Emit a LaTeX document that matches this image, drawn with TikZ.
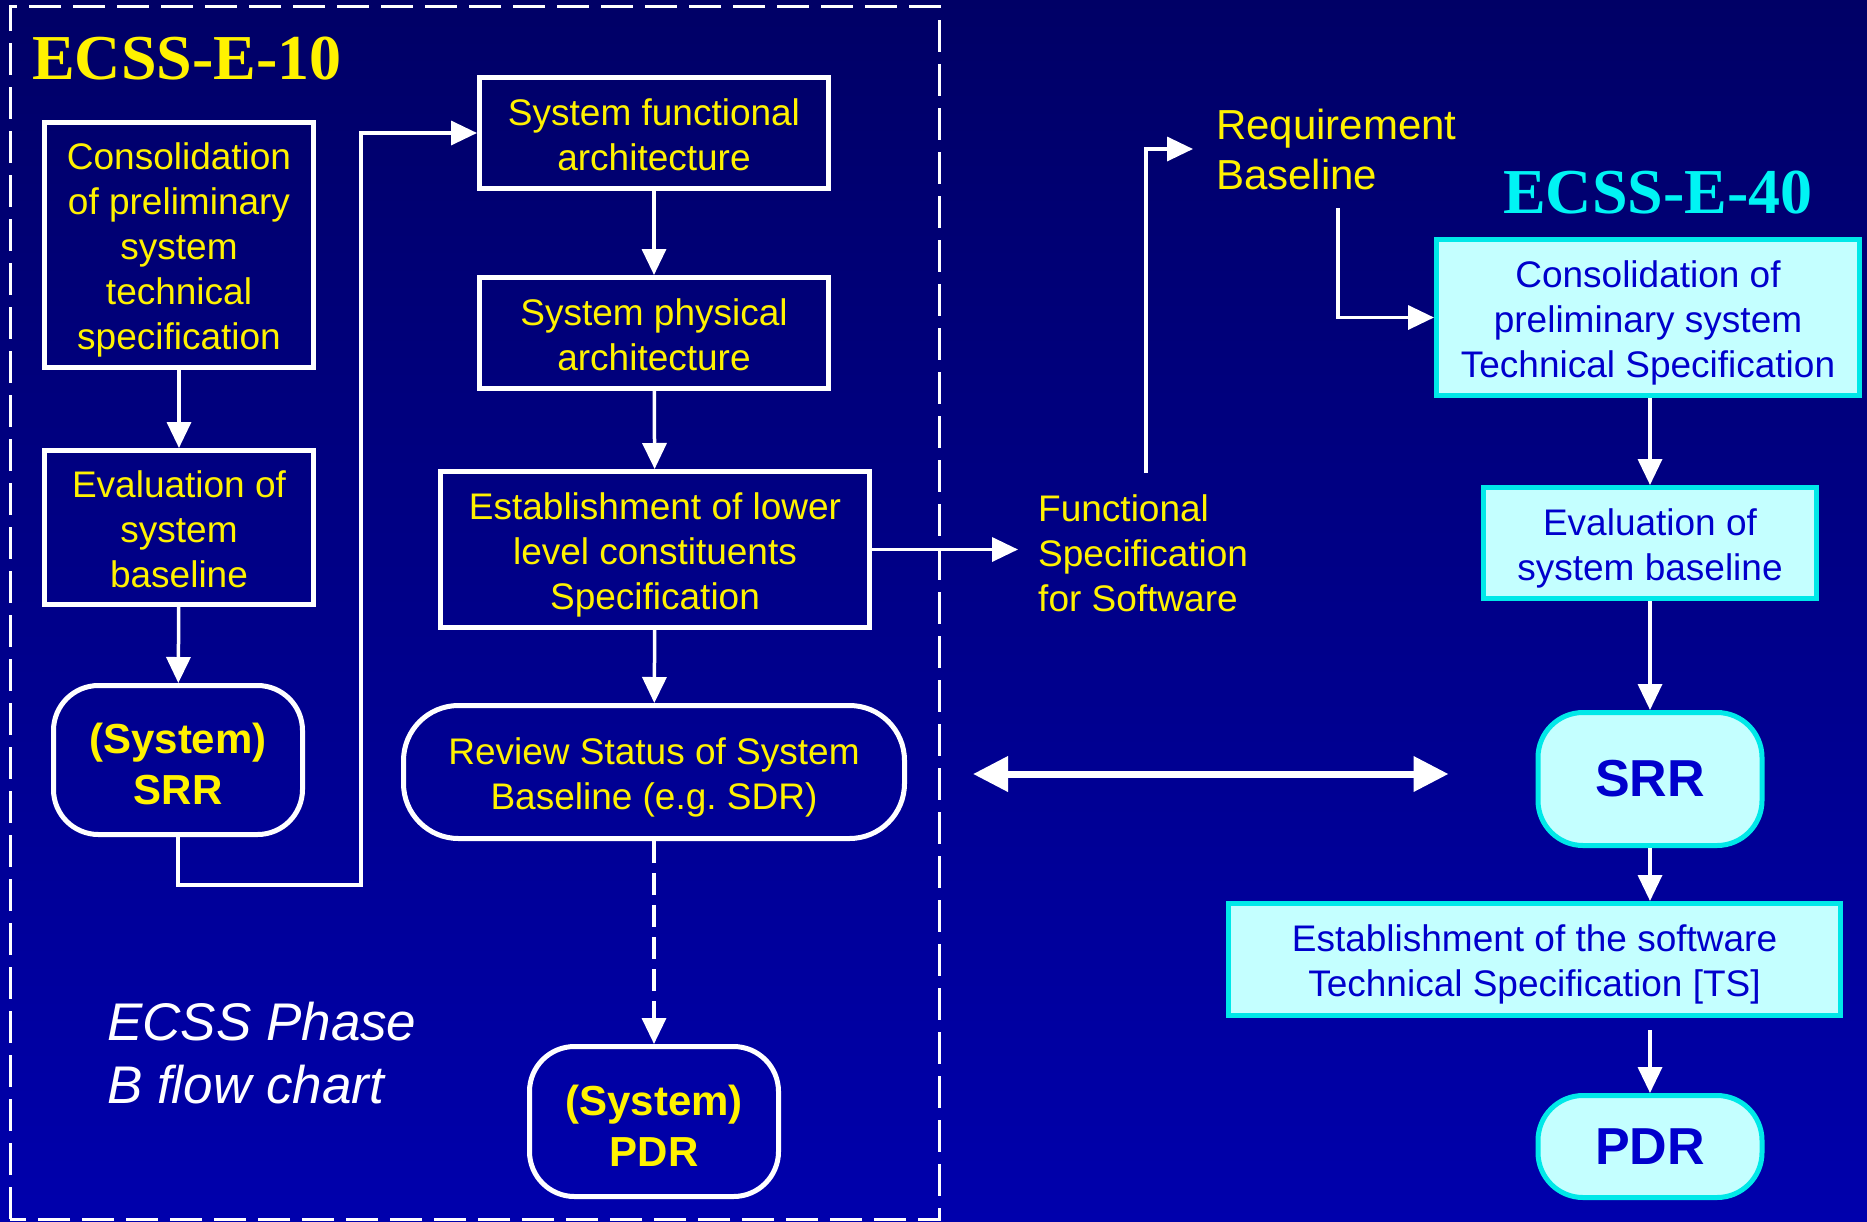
\documentclass[tikz,border=0pt]{standalone}
\usepackage{fontspec}
\setmainfont{Liberation Sans}
\newfontfamily\titlefont{Liberation Serif}
\usetikzlibrary{arrows.meta,calc}

\definecolor{bgtop}{HTML}{000066}
\definecolor{bgbot}{HTML}{0000AC}
\definecolor{ltcyan}{HTML}{C4FFFF}
\definecolor{cyanline}{HTML}{00E8E8}
\definecolor{deepblue}{HTML}{0000CC}
\definecolor{titlecyan}{HTML}{00F4F4}

% struts that give every text block the same line-box extent
\newcommand\tops{\rule{0pt}{37pt}}
\newcommand\bots{\rule[-7pt]{0pt}{7pt}}
\newcommand\btops{\rule{0pt}{38pt}}

\begin{document}
\begin{tikzpicture}[x=1pt,y=-1pt,
  txt/.style={font=\fontsize{37}{45}\selectfont},
  ybox/.style={txt,draw=white,line width=5pt,text=yellow,align=center,inner sep=0pt},
  yround/.style={ybox,rounded corners=45pt},
  ybold/.style={yround,font=\bfseries\fontsize{42}{51}\selectfont},
  cbox/.style={txt,draw=cyanline,fill=ltcyan,line width=5pt,text=deepblue,align=center,inner sep=0pt},
  cround/.style={cbox,rounded corners=45pt,font=\bfseries\fontsize{52}{60}\selectfont},
  label/.style={anchor=west,inner sep=0pt,text=yellow,align=left},
  title/.style={anchor=base west,inner sep=0pt,font=\titlefont\bfseries\fontsize{64}{70}\selectfont},
  arr/.style={draw=white,line width=3.5pt,-{Triangle[width=24pt,length=26pt]}},
  dbl/.style={draw=white,line width=7pt,{Triangle[width=34pt,length=35pt]}-{Triangle[width=34pt,length=35pt]}},
  frame/.style={draw=white,line width=3pt,dash pattern=on 32pt off 12pt}
]
% background
\shade[top color=bgtop,bottom color=bgbot] (0,0) rectangle (1867,1221);
\useasboundingbox (0,0) rectangle (1867,1221);

% ECSS-E-10 frame
\draw[frame] (10,1219) -- (10,6) -- (939,6) -- (939,1219) -- cycle;
\node[title,text=yellow] (t10) at (32,79) {ECSS-E-10};

% left column
\node[ybox,minimum width=269pt,minimum height=245pt] (c10) at (179,245)
  {\tops Consolidation\\of preliminary\\system\\technical\\specification\bots};
\node[ybox,minimum width=269pt,minimum height=154pt] (e10) at (179,527.5)
  {\tops Evaluation of\\system\\baseline\bots};
\node[ybold,minimum width=249pt,minimum height=149pt] (srr10) at (178,760)
  {\btops(System)\\SRR};

% middle column
\node[ybox,minimum width=349pt,minimum height=111pt] (sf) at (654,133)
  {\tops System functional\\architecture\bots};
\node[ybox,minimum width=349pt,minimum height=111pt] (sp) at (654,333)
  {\tops System physical\\architecture\bots};
\node[ybox,minimum width=429pt,minimum height=156pt] (est) at (655,549.5)
  {\tops Establishment of lower\\level constituents\\Specification\bots};
\node[yround,rounded corners=55pt,minimum width=501pt,minimum height=133pt] (rev) at (654,772)
  {\tops Review Status of System\\Baseline (e.g.\ SDR)\bots};
\node[ybold,minimum width=249pt,minimum height=150pt] (pdr10) at (654,1121.5)
  {\btops(System)\\PDR};

\node[anchor=west,inner sep=0pt,text=white,align=left,
      font=\itshape\fontsize{53}{63}\selectfont] (phase) at (107,1053)
  {ECSS Phase\\B flow chart};

% left-column connectors
\coordinate (k1) at (361,885);
\draw[arr] (c10) -- (e10);
\draw[arr] (e10) -- (srr10);
\draw[arr] (srr10.south) |- (k1) |- (sf.west);
\draw[arr] (sf) -- (sp);
\draw[arr] (sp) -- (est);
\draw[arr] (est) -- (rev);
\draw[arr,dash pattern=on 22pt off 10pt] (rev) -- (pdr10);

% outputs between the standards
\node[label,txt] (fs) at (1038,553) {Functional\\Specification\\for Software};
\node[label,font=\fontsize{42}{50}\selectfont] (rb) at (1216,149) {Requirement\\Baseline};
\coordinate (fsup) at (1146,473);
\coordinate (rbdn) at (1338,208);
\draw[arr,shorten >=20pt] (est.east) -- (est.east -| fs.west);
\draw[arr,shorten >=23pt] (fsup) |- (rb.west);

% ECSS-E-40 column
\node[title,text=titlecyan] (t40) at (1503,213) {ECSS-E-40};
\node[cbox,minimum width=423pt,minimum height=156pt] (c40) at (1648,317.5)
  {\tops Consolidation of\\preliminary system\\Technical Specification\bots};
\node[cbox,minimum width=333pt,minimum height=111pt] (e40) at (1650,543)
  {\tops Evaluation of\\system baseline\bots};
\node[cround,minimum width=224pt,minimum height=133pt] (srr40) at (1650,779) {SRR};
\node[cbox,minimum width=612pt,minimum height=112pt] (est40) at (1534.5,959.5)
  {\tops Establishment of the software\\Technical Specification [TS]\bots};
\node[cround,minimum width=224pt,minimum height=102pt] (pdr40) at (1650,1146.5) {PDR};

\draw[arr] (rbdn) |- (c40.west);
\draw[arr] (e40.north |- c40.south) -- (e40.north);
\draw[arr] (e40) -- (srr40);
\draw[arr] (srr40.south) -- (srr40.south |- est40.north);
\draw[arr,shorten <=12pt] (est40.south -| pdr40.north) -- (pdr40.north);

% correspondence between the two reviews
\draw[dbl] ($(rev.east)+(66,2)$) -- ($(rev.east -| srr40.west)+(-87,2)$);
\end{tikzpicture}
\end{document}
